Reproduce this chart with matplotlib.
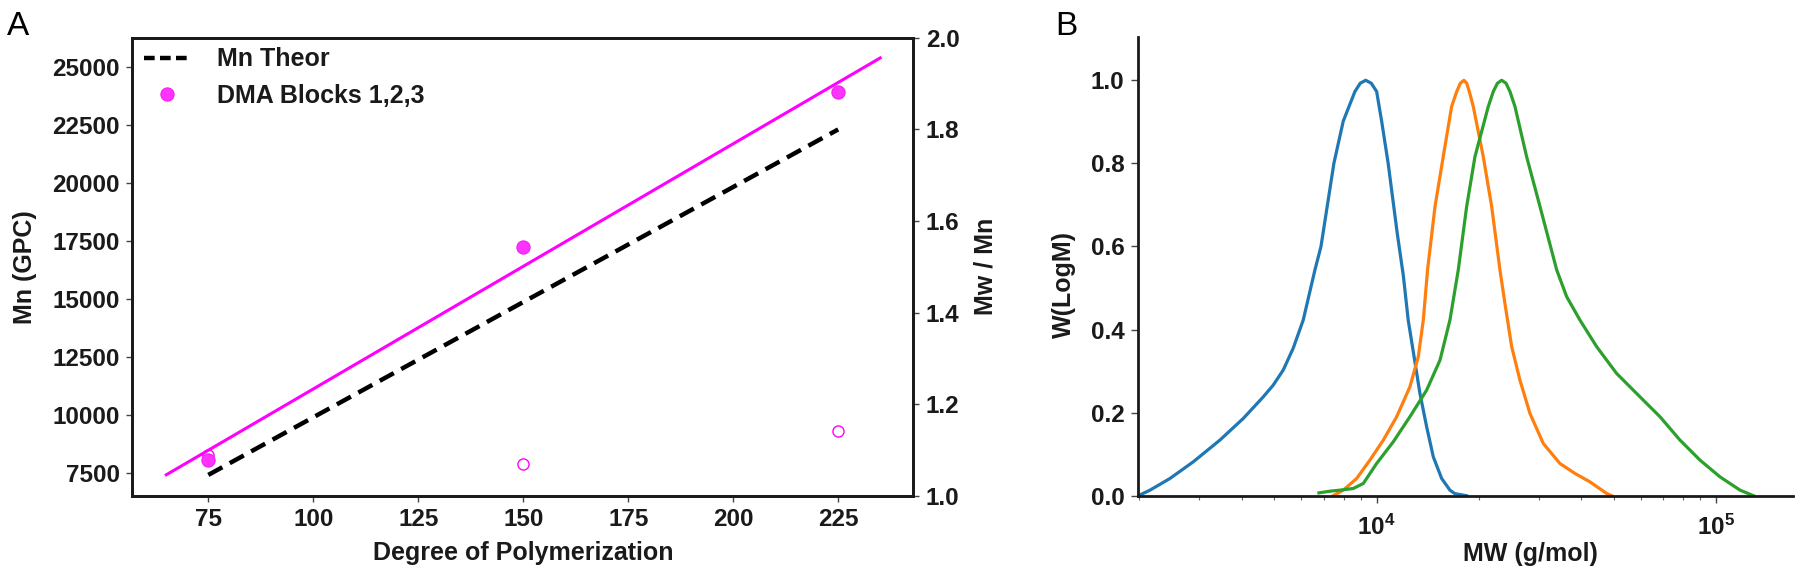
import numpy as np
import matplotlib
matplotlib.use("Agg")
import matplotlib.pyplot as plt
from matplotlib.ticker import LogLocator, NullFormatter, FixedLocator, FixedFormatter
from matplotlib.lines import Line2D

plt.rcParams['font.family'] = ['Liberation Sans', 'DejaVu Sans']
plt.rcParams['mathtext.fontset'] = 'custom'
plt.rcParams['mathtext.bf'] = 'Liberation Sans:bold'
plt.rcParams['mathtext.rm'] = 'Liberation Sans:bold'

# panel A data
dp = np.array([75, 150, 225])
mn_theor = np.array([7430, 14870, 22300])
mn_gpc = np.array([8070, 17250, 23900])
pdi = np.array([1.089, 1.070, 1.142])

# panel B data: GPC traces (MW in g/mol, normalised W(logM))
mw_blue = np.array([1985, 2148, 2460, 2881, 3451, 4046, 4634, 4955, 5305, 5675, 6077,
                    6577, 6855, 7482, 7973, 8630, 8950, 9283, 9640, 10000, 10345, 10814, 11508,
                    11985, 12388, 12823, 13415, 14040, 14689, 15547, 16444, 17000, 18400])
w_blue = np.array([0.0, 0.0133, 0.0414, 0.0815, 0.1337, 0.186, 0.238, 0.266, 0.3024, 0.3546, 0.4229,
                   0.543, 0.60, 0.80, 0.9017, 0.973, 0.993, 1.0, 0.993, 0.973, 0.9017, 0.80, 0.63,
                   0.53, 0.4229, 0.3466, 0.2462, 0.1658, 0.0935, 0.0414, 0.0133, 0.005, 0.0])

mw_orange = np.array([7447, 7973, 8730, 9550, 10462, 11455, 12531, 13266, 13726, 14125,
                      14859, 15714, 16634, 17220, 17650, 18080, 18420, 18750, 19264, 20617, 21827, 23087,
                      23878, 25000, 26443, 28300, 30974, 34674, 38410, 42525, 47624, 49275])
w_orange = np.array([0.0, 0.0133, 0.0414, 0.0855, 0.1337, 0.19, 0.262, 0.3345, 0.4229, 0.5434,
                     0.696, 0.8164, 0.937, 0.973, 0.993, 1.0, 0.993, 0.973, 0.937, 0.816, 0.696, 0.5434,
                     0.463, 0.3586, 0.278, 0.198, 0.1258, 0.0776, 0.0535, 0.0333, 0.0053, 0.0])

mw_green = np.array([6761, 7278, 7798, 8531, 9135, 10000, 11194, 12531, 14040, 15374, 16444,
                     17400, 18418, 19484, 21330, 22070, 22700, 23360, 24050, 24710, 25560, 27669, 30296,
                     33934, 36308, 39719, 44504, 50933, 59704, 68391, 78343, 89743,
                     102755, 117760, 128970])
w_green = np.array([0.0068, 0.0108, 0.0133, 0.0173, 0.0294, 0.0776, 0.1297, 0.19, 0.2542, 0.3265, 0.4229,
                    0.5434, 0.696, 0.816, 0.937, 0.973, 0.993, 1.0, 0.993, 0.973, 0.937, 0.816, 0.696,
                    0.5434, 0.479, 0.4229, 0.3586, 0.2944, 0.238, 0.19, 0.1337, 0.0855,
                    0.0453, 0.0133, 0.0])

txt = '#1a1a1a'
magenta = '#ff00ff'
fs = 17.5

fig = plt.figure(figsize=(18, 5.84), dpi=100)

# ---- panel A ----
ax = fig.add_axes([0.0735, 0.1507, 0.4339, 0.7847])
ax2 = ax.twinx()
ax.set_zorder(ax2.get_zorder() + 1)
ax.patch.set_visible(False)

slope, icpt = np.polyfit(dp, mn_gpc, 1)
xfit = np.array([dp.min() - 10, dp.max() + 10])
ax.plot(xfit, slope * xfit + icpt, color=magenta, lw=2.2, zorder=2)
ax.plot(dp, mn_theor, color='black', lw=3.2, ls='--', dashes=(3.6, 1.9), zorder=3)
ax.plot(dp, mn_gpc, 'o', color='#ff33ff', ms=9.5, mec='#ee22ee', mew=0.8, zorder=4)
ax2.plot(dp, pdi, 'o', mfc='white', mec=magenta, ms=8, mew=1.0, zorder=4)

ax.set_xlim(56.9, 242.9)
ax.set_ylim(6523, 26248)
ax.set_xticks([75, 100, 125, 150, 175, 200, 225])
ax.set_yticks(np.arange(7500, 25001, 2500))
ax2.set_ylim(1.0, 2.0)
ax2.set_yticks([1.0, 1.2, 1.4, 1.6, 1.8, 2.0])
ax2.set_yticklabels(['1.0', '1.2', '1.4', '1.6', '1.8', '2.0'])

for a in (ax, ax2):
    for s in a.spines.values():
        s.set_linewidth(2.0)
        s.set_color('#1a1a1a')
    a.tick_params(length=4, width=1, color='#444444', labelsize=fs, labelcolor=txt, pad=5)
    for lab in a.get_xticklabels() + a.get_yticklabels():
        lab.set_fontweight('bold')

ax.set_xlabel('Degree of Polymerization', fontsize=18, fontweight='bold', color=txt, labelpad=7)
ax.set_ylabel('Mn (GPC)', fontsize=18, fontweight='bold', color=txt)
ax.yaxis.set_label_coords(-0.122, 0.5)
ax2.set_ylabel('Mw / Mn', fontsize=18, fontweight='bold', color=txt, labelpad=10)

handles = [Line2D([], [], color='black', lw=3.2, ls='--', dashes=(2.4, 1.2)),
           Line2D([], [], ls='none', marker='o', color='#ff33ff', ms=9.5, mec='#ee22ee', mew=0.8)]
leg = ax.legend(handles, ['Mn Theor', 'DMA Blocks 1,2,3'], loc='upper left', frameon=False,
                bbox_to_anchor=(-0.014, 1.028), handlelength=1.85, handletextpad=1.07,
                labelspacing=0.5, prop={'weight': 'bold', 'size': 18})
for t in leg.get_texts():
    t.set_color(txt)

fig.text(0.004, 0.94, 'A', fontsize=24, color='black', ha='left', va='baseline')

# ---- panel B ----
bx = fig.add_axes([0.6324, 0.1512, 0.3639, 0.786])
bx.plot(mw_blue, w_blue, color='#1f77b4', lw=2.3)
bx.plot(mw_orange, w_orange, color='#ff7f0e', lw=2.3)
bx.plot(mw_green, w_green, color='#2ca02c', lw=2.3)
bx.set_xscale('log')
bx.set_xlim(1985, 1.69e5)
bx.set_ylim(0, 1.105)
bx.spines['top'].set_visible(False)
bx.spines['right'].set_visible(False)
for s in ('left', 'bottom'):
    bx.spines[s].set_linewidth(2.0)
    bx.spines[s].set_color('#1a1a1a')

bx.xaxis.set_major_locator(FixedLocator([1e4, 1e5]))
bx.xaxis.set_major_formatter(FixedFormatter([r'$\mathbf{10^{4}}$', r'$\mathbf{10^{5}}$']))
bx.xaxis.set_minor_locator(LogLocator(base=10, subs=np.arange(2, 10), numticks=20))
bx.xaxis.set_minor_formatter(NullFormatter())
bx.set_yticks([0.0, 0.2, 0.4, 0.6, 0.8, 1.0])
bx.set_yticklabels(['0.0', '0.2', '0.4', '0.6', '0.8', '1.0'])
bx.tick_params(which='major', length=5, width=1, color='#444444', labelsize=fs, labelcolor=txt)
bx.tick_params(axis='x', which='major', pad=9)
bx.tick_params(axis='y', which='major', pad=5)
bx.tick_params(which='minor', length=3, width=0.8, color='#666666')
for lab in bx.get_xticklabels() + bx.get_yticklabels():
    lab.set_fontweight('bold')

bx.set_xlabel('MW (g/mol)', fontsize=18, fontweight='bold', color=txt)
bx.xaxis.set_label_coords(0.598, -0.1)
bx.set_ylabel('W(LogM)', fontsize=18, fontweight='bold', color=txt)
bx.yaxis.set_label_coords(-0.095, 0.46)

fig.text(0.586, 0.94, 'B', fontsize=24, color='black', ha='left', va='baseline')

fig.savefig('out.png', dpi=100)
